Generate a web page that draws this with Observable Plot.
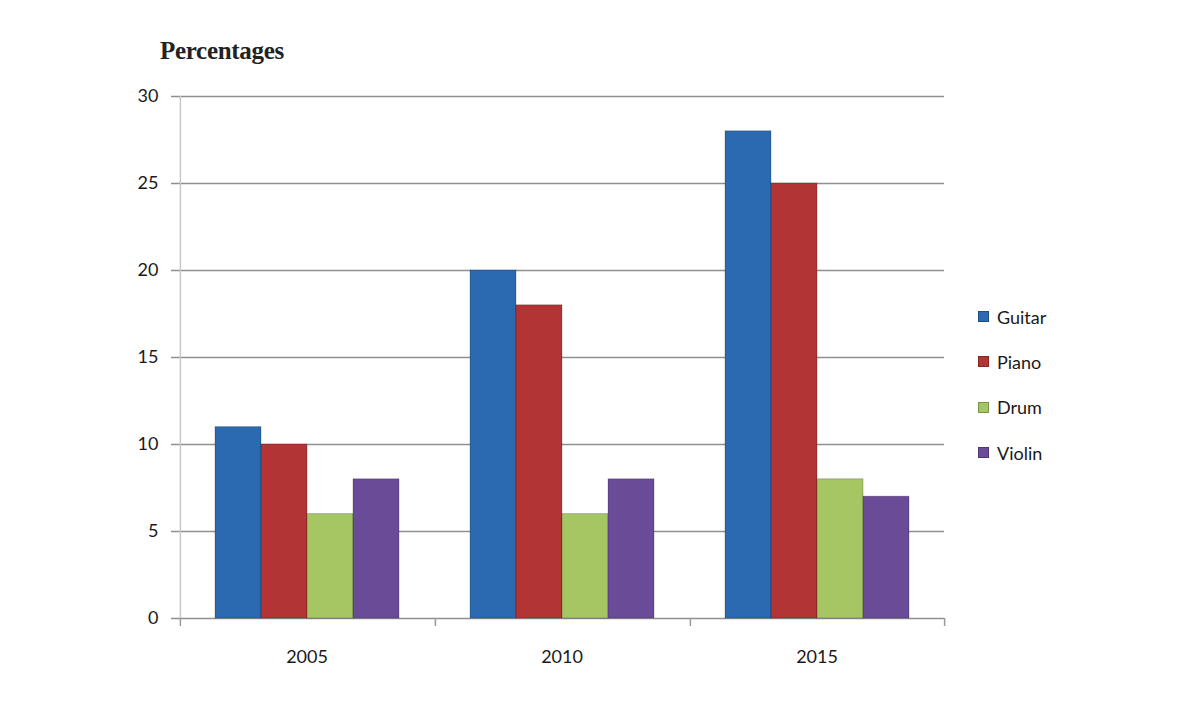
<!DOCTYPE html>
<html>
<head>
<meta charset="utf-8">
<script src="https://cdn.jsdelivr.net/npm/d3@7"></script>
<script src="https://cdn.jsdelivr.net/npm/@observablehq/plot@0.6"></script>
<style>
  html, body { margin: 0; padding: 0; background: #fff; }
  #wrap { position: relative; width: 1200px; height: 713px; overflow: hidden; }
  #title { position: absolute; left: 160px; top: 37px; font-family: "Liberation Serif", "DejaVu Serif", serif; font-size: 25px; font-weight: bold; color: #222; letter-spacing: -0.3px; }
  #legend { position: absolute; left: 978px; top: 294px; font-family: Lato, "Open Sans", sans-serif; font-size: 18px; color: #1a1a1a; }
  .item { display: flex; align-items: center; height: 45.3px; margin-top: 0; }
  .sw { width: 11px; height: 11px; margin-right: 8px; box-sizing: border-box; border: 1px solid rgba(0,0,0,0.25); }
  #chart { position: absolute; left: 0; top: 0; }
</style>
</head>
<body>
<div id="wrap">
  <div id="chart"></div>
  <div id="title">Percentages</div>
  <div id="legend"></div>
</div>
<script>
const years = ["2005", "2010", "2015"];
const instruments = ["Guitar", "Piano", "Drum", "Violin"];
const guitar = [11, 20, 28];
const piano = [10, 18, 25];
const drum = [6, 6, 8];
const violin = [8, 8, 7];
const colors = ["#2b69b0", "#b23434", "#a6c663", "#6a4b98"];
const yTicks = [0, 5, 10, 15, 20, 25, 30];

const series = [guitar, piano, drum, violin];
const data = [];
years.forEach((yr, i) => {
  instruments.forEach((ins, j) => {
    data.push({ year: yr, instrument: ins, value: series[j][i] });
  });
});

const W = 1200, H = 713;
const mL = 178, mR = 255, mT = 96, mB = 95;
const outerPad = 0.75;
const facetW = (W - mL - mR) / years.length;
const step = facetW / (instruments.length + 2 * outerPad);
const edge = step / 2 + outerPad * step;
const tickUnits = 8 * 30 / (H - mT - mB);

const leftEdges = years.map(y => ({ year: y, instrument: instruments[0] }));
const rightEdge = [{ year: years[years.length - 1], instrument: instruments[instruments.length - 1] }];

const chart = Plot.plot({
  width: W,
  height: H,
  marginLeft: mL,
  marginRight: mR,
  marginTop: mT,
  marginBottom: mB,
  style: { fontFamily: "Lato, 'Open Sans', sans-serif", background: "transparent", color: "#1a1a1a" },
  fx: { domain: years, padding: 0, label: null },
  x: { domain: instruments, paddingInner: 0, paddingOuter: outerPad, axis: null },
  y: { domain: [0, 30], label: null },
  color: { domain: instruments, range: colors },
  marks: [
    Plot.gridY(yTicks, { stroke: "#8f8f8f", strokeOpacity: 1, strokeWidth: 1.5 }),
    Plot.ruleX(leftEdges, { fx: "year", x: "instrument", y1: -tickUnits, y2: 0, dx: -edge, stroke: "#9a9a9a", strokeWidth: 1.5 }),
    Plot.ruleX(rightEdge, { fx: "year", x: "instrument", y1: -tickUnits, y2: 0, dx: edge, stroke: "#9a9a9a", strokeWidth: 1.5 }),
    Plot.ruleX([{ year: years[0], instrument: instruments[0] }], { fx: "year", x: "instrument", y1: 0, y2: 30, dx: -edge, stroke: "#c8c8c8", strokeWidth: 1.5 }),
    Plot.barY(data, { fx: "year", x: "instrument", y: "value", fill: "instrument", stroke: "#000", strokeOpacity: 0.22, strokeWidth: 1 }),
    Plot.axisY({ ticks: yTicks, tickSize: 8, tickPadding: 13, fontSize: 18, stroke: "#8f8f8f", fill: "#1a1a1a", strokeWidth: 1.5, label: null }),
    Plot.axisFx({ anchor: "bottom", tickSize: 0, tickPadding: 32, fontSize: 18, fill: "#1a1a1a", label: null })
  ]
});
document.getElementById("chart").appendChild(chart);

const legend = document.getElementById("legend");
instruments.forEach((ins, j) => {
  const item = document.createElement("div");
  item.className = "item";
  const sw = document.createElement("span");
  sw.className = "sw";
  sw.style.background = colors[j];
  const t = document.createElement("span");
  t.textContent = ins;
  item.appendChild(sw);
  item.appendChild(t);
  legend.appendChild(item);
});
</script>
</body>
</html>
